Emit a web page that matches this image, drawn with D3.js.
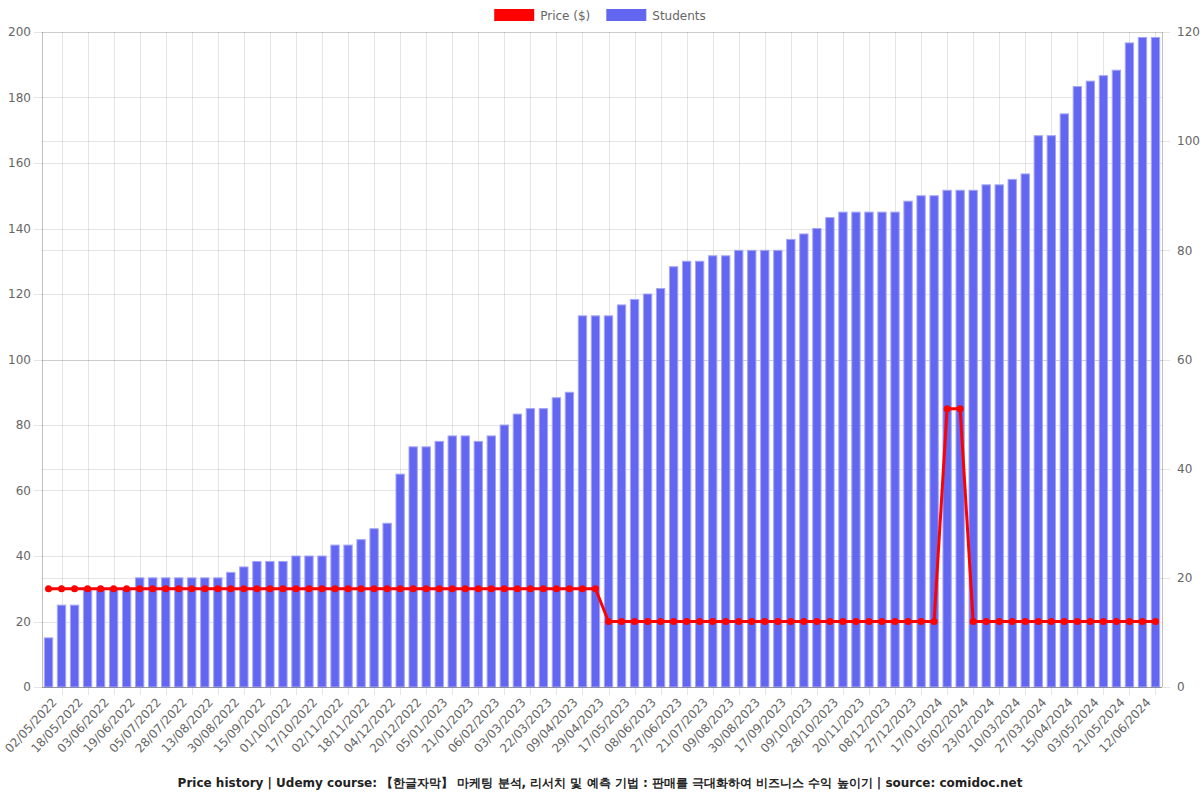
<!DOCTYPE html>
<html lang="ko">
<head>
  <meta charset="UTF-8">
  <title>price history</title>
  <style>
    body { margin: 0; background: #fff; }
    svg { display: block; font-family: "DejaVu Sans", sans-serif; }
  </style>
</head>
<body>
  <div class="chart"></div>
  <script src="https://cdnjs.cloudflare.com/ajax/libs/d3/7.8.5/d3.min.js"></script>
  <script>
    // x tick labels (only every other bar is labelled, starting at bar 1)
    const tickLabels = [
      '02/05/2022', '18/05/2022', '03/06/2022', '19/06/2022', '05/07/2022', '28/07/2022',
      '13/08/2022', '30/08/2022', '15/09/2022', '01/10/2022', '17/10/2022', '02/11/2022',
      '18/11/2022', '04/12/2022', '20/12/2022', '05/01/2023', '21/01/2023', '06/02/2023',
      '03/03/2023', '22/03/2023', '09/04/2023', '29/04/2023', '17/05/2023', '08/06/2023',
      '27/06/2023', '21/07/2023', '09/08/2023', '30/08/2023', '17/09/2023', '09/10/2023',
      '28/10/2023', '20/11/2023', '08/12/2023', '27/12/2023', '17/01/2024', '05/02/2024',
      '23/02/2024', '10/03/2024', '27/03/2024', '15/04/2024', '03/05/2024', '21/05/2024',
      '12/06/2024'
    ];

    const students = [
      9, 15, 15, 18, 18, 18, 18, 20, 20, 20, 20, 20, 20, 20, 21, 22, 23, 23, 23, 24,
      24, 24, 26, 26, 27, 29, 30, 39, 44, 44, 45, 46, 46, 45, 46, 48, 50, 51, 51, 53,
      54, 68, 68, 68, 70, 71, 72, 73, 77, 78, 78, 79, 79, 80, 80, 80, 80, 82, 83, 84,
      86, 87, 87, 87, 87, 87, 89, 90, 90, 91, 91, 91, 92, 92, 93, 94, 101, 101, 105, 110,
      111, 112, 113, 118, 119, 119
    ];

    const price = [
      29.99, 29.99, 29.99, 29.99, 29.99, 29.99, 29.99, 29.99, 29.99, 29.99,
      29.99, 29.99, 29.99, 29.99, 29.99, 29.99, 29.99, 29.99, 29.99, 29.99,
      29.99, 29.99, 29.99, 29.99, 29.99, 29.99, 29.99, 29.99, 29.99, 29.99,
      29.99, 29.99, 29.99, 29.99, 29.99, 29.99, 29.99, 29.99, 29.99, 29.99,
      29.99, 29.99, 29.99, 19.99, 19.99, 19.99, 19.99, 19.99, 19.99, 19.99,
      19.99, 19.99, 19.99, 19.99, 19.99, 19.99, 19.99, 19.99, 19.99, 19.99,
      19.99, 19.99, 19.99, 19.99, 19.99, 19.99, 19.99, 19.99, 19.99, 84.99,
      84.99, 19.99, 19.99, 19.99, 19.99, 19.99, 19.99, 19.99, 19.99, 19.99,
      19.99, 19.99, 19.99, 19.99, 19.99, 19.99
    ];

    const priceTicks = d3.range(0, 201, 20);
    const studentTicks = d3.range(0, 121, 20);

    const titleText = 'Price history | Udemy course: 【한글자막】 마케팅 분석, 리서치 및 예측 기법 : 판매를 극대화하여 비즈니스 수익 높이기 | source: comidoc.net';

    const width = 1200, height = 800;
    const margin = { top: 32, right: 38, bottom: 113, left: 42 };
    const innerW = width - margin.left - margin.right;
    const innerH = height - margin.top - margin.bottom;

    const svg = d3.select('.chart').append('svg')
      .attr('width', width)
      .attr('height', height);

    const g = svg.append('g')
      .attr('transform', `translate(${margin.left},${margin.top})`);

    const x = d3.scaleBand()
      .domain(d3.range(students.length))
      .range([0, innerW])
      .paddingInner(0.36)
      .paddingOuter(0.18);

    const yPrice = d3.scaleLinear().domain([0, 200]).range([innerH, 0]);
    const yStudents = d3.scaleLinear().domain([0, 120]).range([innerH, 0]);

    const cx = i => x(i) + x.bandwidth() / 2;
    const labelled = d3.range(1, students.length, 2);

    // grid
    const grid = g.append('g').attr('stroke', 'rgba(0,0,0,0.1)').attr('stroke-width', 1);
    grid.selectAll('.vg').data(labelled).join('line')
      .attr('x1', d => Math.round(cx(d)) + 0.5).attr('x2', d => Math.round(cx(d)) + 0.5)
      .attr('y1', 0).attr('y2', innerH + 8);
    grid.selectAll('.hp').data(priceTicks).join('line')
      .attr('x1', -8).attr('x2', innerW)
      .attr('y1', d => Math.round(yPrice(d)) + 0.5).attr('y2', d => Math.round(yPrice(d)) + 0.5);
    grid.selectAll('.hs').data(studentTicks).join('line')
      .attr('x1', 0).attr('x2', innerW + 8)
      .attr('y1', d => Math.round(yStudents(d)) + 0.5).attr('y2', d => Math.round(yStudents(d)) + 0.5);

    // bars
    g.append('g').selectAll('rect').data(students).join('rect')
      .attr('x', (d, i) => x(i))
      .attr('y', d => yStudents(d))
      .attr('width', x.bandwidth())
      .attr('height', d => innerH - yStudents(d))
      .attr('fill', '#6366f1')
      .attr('stroke', '#a5a7f6')
      .attr('stroke-width', 1);

    // axis lines
    g.append('line').attr('x1', 0.5).attr('x2', 0.5).attr('y1', 0).attr('y2', innerH)
      .attr('stroke', 'rgba(0,0,0,0.25)');
    g.append('line').attr('x1', innerW + 0.5).attr('x2', innerW + 0.5).attr('y1', 0).attr('y2', innerH)
      .attr('stroke', 'rgba(0,0,0,0.25)');
    g.append('line').attr('x1', 0).attr('x2', innerW).attr('y1', innerH + 0.5).attr('y2', innerH + 0.5)
      .attr('stroke', 'rgba(0,0,0,0.25)');

    // price line
    const line = d3.line()
      .x((d, i) => cx(i))
      .y(d => yPrice(d));

    g.append('path')
      .datum(price)
      .attr('d', line)
      .attr('fill', 'none')
      .attr('stroke', '#ff0000')
      .attr('stroke-width', 3)
      .attr('stroke-linejoin', 'round');

    g.append('g').selectAll('circle').data(price).join('circle')
      .attr('cx', (d, i) => cx(i))
      .attr('cy', d => yPrice(d))
      .attr('r', 3.5)
      .attr('fill', '#ff0000');

    // y tick labels
    g.append('g').selectAll('text').data(priceTicks).join('text')
      .attr('x', -11)
      .attr('y', d => yPrice(d))
      .attr('dy', '0.35em')
      .attr('text-anchor', 'end')
      .attr('font-size', 12)
      .attr('fill', '#666')
      .text(d => d);

    g.append('g').selectAll('text').data(studentTicks).join('text')
      .attr('x', innerW + 15)
      .attr('y', d => yStudents(d))
      .attr('dy', '0.35em')
      .attr('font-size', 12)
      .attr('fill', '#666')
      .text(d => d);

    // x tick labels
    g.append('g').selectAll('text').data(labelled).join('text')
      .attr('transform', d => `translate(${cx(d) - 4},${innerH + 16}) rotate(-47)`)
      .attr('text-anchor', 'end')
      .attr('font-size', 12)
      .attr('fill', '#666')
      .text((d, k) => tickLabels[k]);

    // legend
    const legendItems = [
      { label: 'Price ($)', color: '#ff0000' },
      { label: 'Students', color: '#6366f1' }
    ];
    const legend = svg.append('g');
    let lx = 0;
    legendItems.forEach(item => {
      const it = legend.append('g').attr('transform', `translate(${lx},0)`);
      it.append('rect').attr('x', 0).attr('y', 9).attr('width', 40).attr('height', 12)
        .attr('fill', item.color);
      const t = it.append('text').attr('x', 46).attr('y', 16).attr('dy', '0.35em')
        .attr('font-size', 12).attr('fill', '#666').text(item.label);
      lx += 46 + t.node().getComputedTextLength() + 16;
    });
    legend.attr('transform', `translate(${(width - (lx - 16)) / 2},0)`);

    // title
    svg.append('text')
      .attr('x', width / 2)
      .attr('y', 783)
      .attr('dy', '0.35em')
      .attr('text-anchor', 'middle')
      .attr('font-size', 12)
      .attr('font-weight', 'bold')
      .attr('fill', '#222')
      .text(titleText);
  </script>
</body>
</html>
